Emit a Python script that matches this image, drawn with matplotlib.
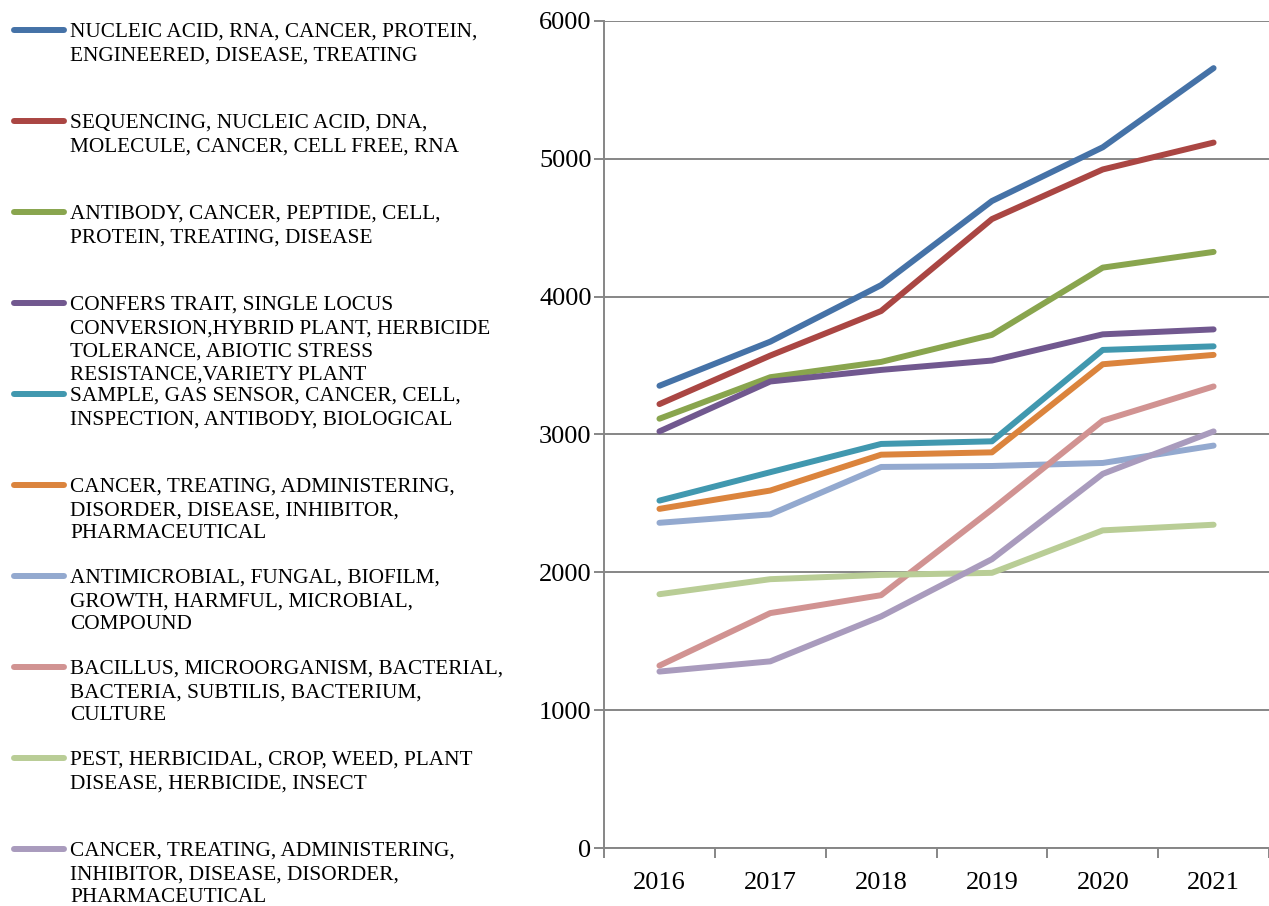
import matplotlib
matplotlib.use("Agg")
import matplotlib.pyplot as plt
from matplotlib.lines import Line2D

plt.rcParams['font.family'] = ['Liberation Serif', 'DejaVu Serif']

years = ['2016', '2017', '2018', '2019', '2020', '2021']

labels = [
    "NUCLEIC ACID, RNA, CANCER, PROTEIN,\nENGINEERED, DISEASE, TREATING",
    "SEQUENCING, NUCLEIC ACID, DNA,\nMOLECULE, CANCER, CELL FREE, RNA",
    "ANTIBODY, CANCER, PEPTIDE, CELL,\nPROTEIN, TREATING, DISEASE",
    "CONFERS TRAIT, SINGLE LOCUS\nCONVERSION,HYBRID PLANT, HERBICIDE\nTOLERANCE, ABIOTIC STRESS\nRESISTANCE,VARIETY PLANT",
    "SAMPLE, GAS SENSOR, CANCER, CELL,\nINSPECTION, ANTIBODY, BIOLOGICAL",
    "CANCER, TREATING, ADMINISTERING,\nDISORDER, DISEASE, INHIBITOR,\nPHARMACEUTICAL",
    "ANTIMICROBIAL, FUNGAL, BIOFILM,\nGROWTH, HARMFUL, MICROBIAL,\nCOMPOUND",
    "BACILLUS, MICROORGANISM, BACTERIAL,\nBACTERIA, SUBTILIS, BACTERIUM,\nCULTURE",
    "PEST, HERBICIDAL, CROP, WEED, PLANT\nDISEASE, HERBICIDE, INSECT",
    "CANCER, TREATING, ADMINISTERING,\nINHIBITOR, DISEASE, DISORDER,\nPHARMACEUTICAL",
]

nucleic_rna = [3353, 3673, 4083, 4693, 5083, 5657]
sequencing = [3220, 3572, 3895, 4562, 4922, 5117]
antibody = [3114, 3415, 3526, 3722, 4210, 4324]
confers_trait = [3022, 3384, 3468, 3536, 3726, 3762]
gas_sensor = [2520, 2726, 2931, 2950, 3613, 3639]
cancer_disorder = [2460, 2593, 2853, 2870, 3509, 3577]
antimicrobial = [2359, 2420, 2764, 2771, 2793, 2919]
bacillus = [1323, 1704, 1834, 2456, 3100, 3348]
pest = [1841, 1950, 1981, 1996, 2304, 2345]
cancer_inhibitor = [1280, 1354, 1680, 2095, 2714, 3022]

series = [nucleic_rna, sequencing, antibody, confers_trait, gas_sensor,
          cancer_disorder, antimicrobial, bacillus, pest, cancer_inhibitor]
colors = ['#4572A7', '#AA4643', '#89A54E', '#71588F', '#4198AF',
          '#DB843D', '#93A9CF', '#D19392', '#B9CD96', '#A99BBD']

fig = plt.figure(figsize=(12.69, 9.06), dpi=100)
ax = fig.add_axes([0.476, 0.064, 0.524, 0.913])

x = list(range(len(years)))
for vals, c in zip(series, colors):
    ax.plot(x, vals, color=c, lw=4.3, solid_capstyle='round', solid_joinstyle='round', zorder=3)

ax.set_xlim(-0.5, 5.5)
ax.set_ylim(0, 6000)
ax.set_yticks(range(0, 6001, 1000))
ax.yaxis.grid(True, color='#868686', lw=1.4)
ax.set_axisbelow(True)

ax.set_xticks(x)
ax.set_xticklabels(years)
ax.set_xticks([i - 0.5 for i in range(len(years) + 1)], minor=True)
ax.tick_params(axis='x', which='major', length=0, pad=17, labelsize=19)
ax.tick_params(axis='x', which='minor', length=7, width=1.4, color='#868686', direction='out')
ax.tick_params(axis='y', length=7, width=1.4, color='#868686', pad=2, labelsize=19)

for s in ['top', 'right']:
    ax.spines[s].set_visible(False)
for s in ['left', 'bottom']:
    ax.spines[s].set_color('#868686')
    ax.spines[s].set_linewidth(1.4)

# legend drawn by hand down the left side
W, H = 1269, 906
for i, (lab, c) in enumerate(zip(labels, colors)):
    yp = 30 + i * 91.0
    fig.add_artist(Line2D([14 / W, 64 / W], [1 - yp / H, 1 - yp / H], color=c, lw=4.3,
                          solid_capstyle='round', transform=fig.transFigure))
    fig.text(70 / W, 1 - (yp - 7) / H, lab, fontsize=15.3, va='top', ha='left',
             linespacing=1.3, color='black')

fig.savefig('out.png', dpi=100)
